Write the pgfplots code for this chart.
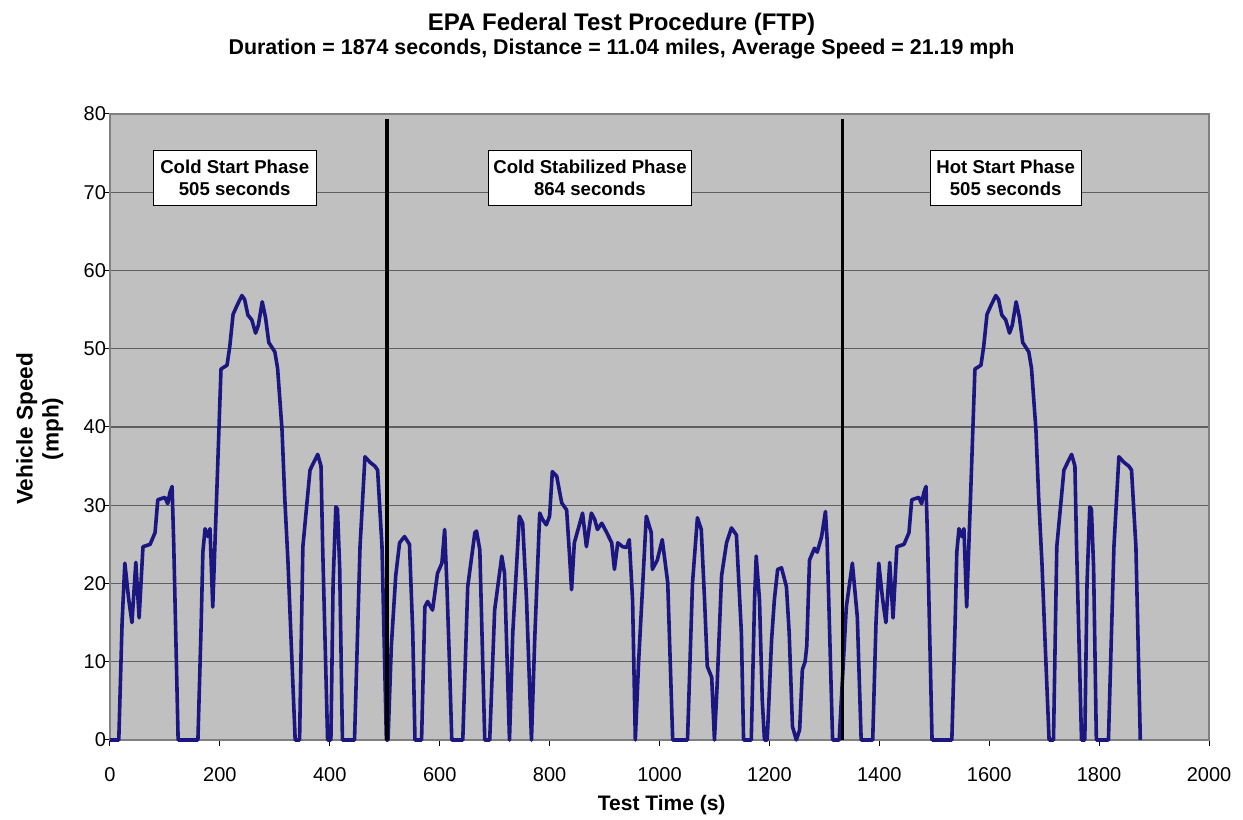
\documentclass[border=0pt]{standalone}
\usepackage{pgfplots}
\pgfplotsset{compat=1.18}
\usepackage{fontspec}
\setmainfont{Liberation Sans}
\definecolor{plotbg}{RGB}{192,192,192}
\definecolor{curve}{RGB}{28,22,128}
\definecolor{gridc}{RGB}{95,95,95}
\definecolor{framec}{RGB}{128,128,128}
\begin{document}
\begin{tikzpicture}
\begin{axis}[
  scale only axis, width=549.5pt, height=313pt,
  xmin=0, xmax=2000, ymin=0, ymax=80,
  xtick={0,200,...,2000}, ytick={0,10,...,80},
  axis background/.style={fill=plotbg},
  ymajorgrids, major grid style={gridc, line width=0.6pt},
  axis line style={framec, line width=0.7pt},
  tick style={black, line width=0.5pt}, tick align=outside, major tick length=3pt,
  xtick pos=lower, ytick pos=left,
  ticklabel style={font=\fontsize{10}{12}\selectfont},
  /pgf/number format/assume math mode=true,
  /pgf/number format/1000 sep={},
  xticklabel style={yshift=-7pt},
  yticklabel style={xshift=4.5pt},
  xlabel={Test Time (s)},
  xlabel style={font=\fontsize{10.5}{12}\selectfont\bfseries, at={(axis description cs:0.502,0)}, anchor=center, yshift=-32.5pt},
  ylabel={Vehicle Speed\\(mph)},
  ylabel style={font=\fontsize{11.3}{13}\selectfont\bfseries, align=center, at={(axis description cs:-0.064,0.497)}, anchor=center},
  clip=false,
]
\addplot[curve, line width=1.8pt, line join=round] coordinates {
(0,0) (16,0) (22,15) (27,22.6) (34,18) (40,15) (47,22.7) (53,15.6) (60,24.7) (73,25) (82,26.5) (87,30.7) (100,31) (105,30.2) (109,31.6) (113,32.4) (116,25) (124,0) (160,0) (166,15) (169,24) (173,27) (178,26) (182,27) (187,17) (195,33) (202,47.4) (213,47.9) (218,50.3) (224,54.4) (231,55.5) (240,56.8) (245,56.3) (251,54.3) (258,53.7) (265,52) (270,53) (277,56) (283,54) (289,50.8) (300,49.6) (305,47.5) (313,39.7) (318,31) (324,22.6) (330,12) (337,0) (345,0) (351,24.7) (364,34.5) (373,35.8) (378,36.5) (384,35) (387,24.7) (396,0) (402,0) (406,20) (411,29.8) (414,29.5) (418,22) (423,0) (445,0) (455,24.7) (464,36.2) (473,35.5) (482,35) (487,34.5) (495,24.7) (503,0)
(506,0) (512,12) (520,21) (527,25.2) (536,26) (545,25) (551,13.7) (555,0) (567,0) (573,17) (578,17.7) (587,16.6) (596,21.3) (604,22.6) (609,26.9) (613,20) (618,9.4) (622,0) (642,0) (651,19.6) (664,26.5) (667,26.7) (673,24.3) (682,0) (691,0) (700,16.6) (713,23.5) (718,21.3) (727,0) (733,13.7) (745,28.6) (751,27.7) (758,18) (767,0) (773,13) (782,29) (787,28.2) (794,27.5) (800,28.6) (805,34.3) (813,33.7) (822,30.3) (831,29.4) (836,23.9) (840,19.2) (845,25.2) (855,27.7) (860,29) (867,24.7) (876,29) (882,28.2) (887,26.9) (895,27.7) (904,26.5) (913,25.2) (918,21.8) (924,25.2) (933,24.7) (940,24.6) (945,25.6) (951,17.9) (956,0) (962,10) (976,28.6) (985,26.5) (987,21.8) (996,23) (1005,25.6) (1015,20.1) (1024,0) (1051,0) (1060,20) (1069,28.4) (1076,26.9) (1082,17.9) (1087,9.4) (1095,8) (1100,0) (1105,7.2) (1113,21) (1122,25.2) (1131,27.1) (1140,26.2) (1149,13.7) (1153,0) (1167,0) (1173,17.9) (1176,23.5) (1182,17.9) (1187,5.1) (1191,0) (1196,0) (1204,12.8) (1209,17.9) (1215,21.8) (1222,22) (1231,19.6) (1236,13.7) (1242,1.7) (1249,0) (1255,1.3) (1260,9) (1265,10) (1268,12) (1273,23) (1282,24.5) (1287,24) (1295,26) (1302,29.2) (1305,25.6) (1313,5.1) (1315,0) (1327,0) (1340,17) (1351,22.6) (1360,15.7) (1367,0) (1388,0)
(1394,15) (1399,22.6) (1406,18) (1412,15) (1419,22.7) (1425,15.6) (1432,24.7) (1445,25) (1454,26.5) (1459,30.7) (1472,31) (1477,30.2) (1481,31.6) (1485,32.4) (1488,25) (1496,0) (1532,0) (1538,15) (1541,24) (1545,27) (1550,26) (1554,27) (1559,17) (1567,33) (1574,47.4) (1585,47.9) (1590,50.3) (1596,54.4) (1603,55.5) (1612,56.8) (1617,56.3) (1623,54.3) (1630,53.7) (1637,52) (1642,53) (1649,56) (1655,54) (1661,50.8) (1672,49.6) (1677,47.5) (1685,39.7) (1690,31) (1696,22.6) (1702,12) (1709,0) (1717,0) (1723,24.7) (1736,34.5) (1745,35.8) (1750,36.5) (1756,35) (1759,24.7) (1768,0) (1774,0) (1778,20) (1783,29.8) (1786,29.5) (1790,22) (1795,0) (1817,0) (1827,24.7) (1836,36.2) (1845,35.5) (1854,35) (1859,34.5) (1867,24.7) (1875,0)
};
\addplot[black, line width=1.6pt] coordinates {(504,0) (504,79.4)};
\addplot[black, line width=1.6pt] coordinates {(1333,0) (1333,79.4)};
\node[draw=black, fill=white, align=center, font=\fontsize{9.3}{11}\selectfont\bfseries, minimum width=81.5pt, minimum height=27.5pt, inner sep=1pt, line width=0.6pt] at (axis cs:227,71.8) {Cold Start Phase\\505 seconds};
\node[draw=black, fill=white, align=center, font=\fontsize{9.3}{11}\selectfont\bfseries, minimum width=101.5pt, minimum height=27.5pt, inner sep=1pt, line width=0.6pt] at (axis cs:873.5,71.8) {Cold Stabilized Phase\\864 seconds};
\node[draw=black, fill=white, align=center, font=\fontsize{9.3}{11}\selectfont\bfseries, minimum width=75.5pt, minimum height=27.5pt, inner sep=1pt, line width=0.6pt] at (axis cs:1630,71.8) {Hot Start Phase\\505 seconds};
\node[font=\fontsize{12}{13}\selectfont\bfseries, anchor=center] at (axis cs:931,80) [yshift=45pt] {EPA Federal Test Procedure (FTP)};
\node[font=\fontsize{10.7}{12}\selectfont\bfseries, anchor=center] at (axis cs:931,80) [yshift=32.5pt] {Duration = 1874 seconds, Distance = 11.04 miles, Average Speed = 21.19 mph};
\end{axis}
\path (current axis.south west) ++(-55pt,-40pt) coordinate (bbA);
\path (current axis.north east) ++(17pt,57pt) coordinate (bbB);
\pgfresetboundingbox
\useasboundingbox (bbA) rectangle (bbB);
\end{tikzpicture}
\end{document}
